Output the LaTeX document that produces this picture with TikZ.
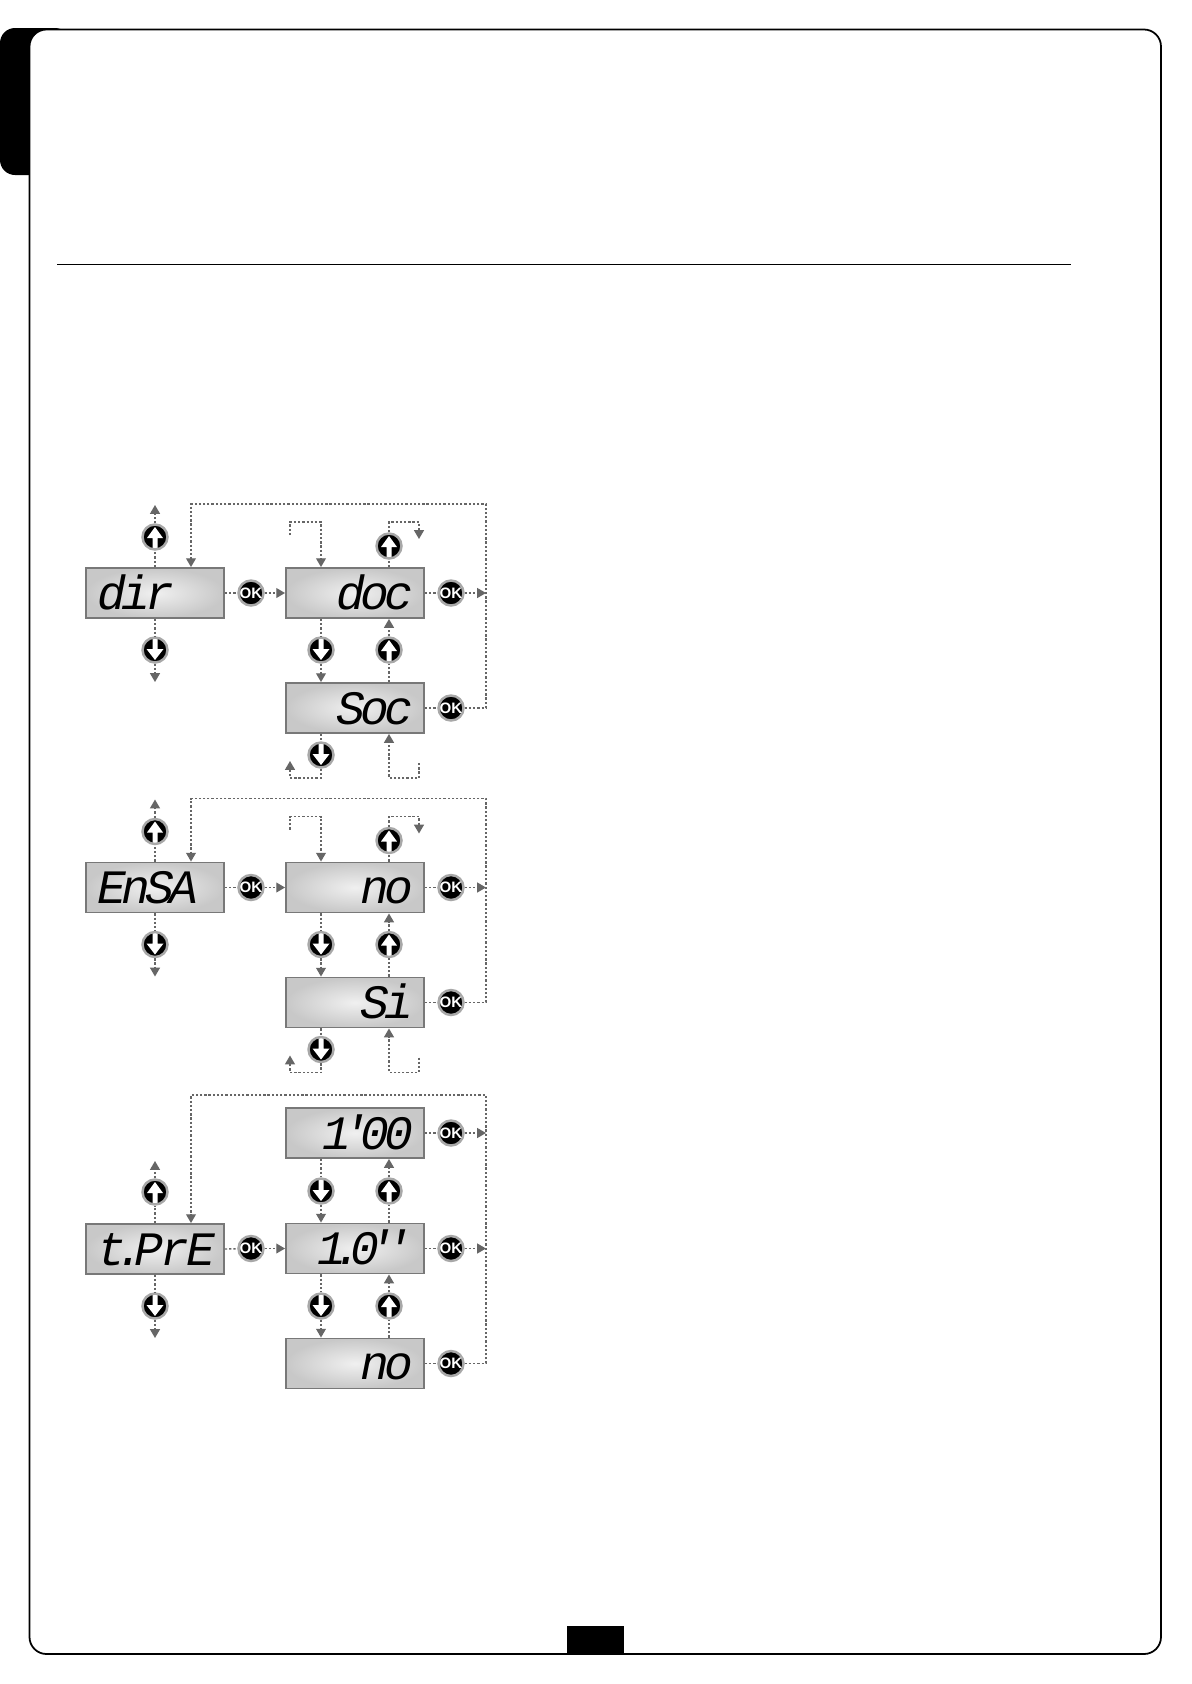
\documentclass[tikz,border=0pt]{standalone}
\usepackage{fontspec}
\setsansfont{Liberation Sans}
\newfontfamily\lcdfont[LetterSpace=-10]{Liberation Mono}
\usetikzlibrary{arrows.meta}
\definecolor{linegray}{HTML}{666666}
\definecolor{boxgray}{HTML}{787878}
\definecolor{ringgray}{HTML}{A8A8A8}
\definecolor{lcdlight}{HTML}{F0F0F0}
\definecolor{lcddark}{HTML}{C8C8C8}

\begin{document}
\begin{tikzpicture}[
  x=0.02cm, y=-0.02cm,
  lcd/.style={draw=boxgray, line width=1.1pt, inner color=lcdlight, outer color=lcddark,
              inner xsep=0.22cm, inner ysep=0.18cm, text width=2.32cm,
              text height=0.64cm, text depth=0pt,
              font=\lcdfont\itshape\fontsize{27.3}{30}\selectfont, text=black},
  btn/.style={circle, fill=black, draw=ringgray, line width=1.4pt,
              minimum size=0.5cm, inner sep=0pt},
  btnok/.style={btn, text=white, font=\sffamily\bfseries\fontsize{8.6}{9}\selectfont},
  btnup/.style={btn, path picture={
      \fill[white, shift={(path picture bounding box.center)}]
        (0,-10) -- (8,1) -- (2.5,1) -- (2.5,13) -- (-2.5,13) -- (-2.5,1) -- (-8,1) -- cycle;}},
  btndn/.style={btn, path picture={
      \fill[white, shift={(path picture bounding box.center)}]
        (0,10) -- (8.5,-1) -- (2.5,-1) -- (2.5,-13) -- (-2.5,-13) -- (-2.5,-1) -- (-8.5,-1) -- cycle;}},
  dots/.style={draw=linegray, line width=0.8pt, dash pattern=on 1.3pt off 1.1pt},
  arr/.style={dots, -{Triangle[length=5pt, width=5.6pt, fill=linegray]}},
]
\useasboundingbox (0,0) rectangle (1191,1684);

% ─── page frame, side tab, foot tab, header rule ────────────────────────────
\fill[white] (0,0) rectangle (1191,1684);
\fill[black, rounded corners=0.3cm] (0,28) rectangle (70,175);
\draw[black, fill=white, line width=1pt, rounded corners=0.34cm] (29.5,29.5) rectangle (1161,1654);
\fill[black] (567,1626) rectangle (624,1654);
\draw[black, line width=0.55pt] (57,264) -- (1071,264);

% ─── two menus of two choices ───────────────────────────────────────────────
\foreach \n/\dy/\tl/\tr/\tq in {a/0/dir/doc/Soc, b/294.5/EnSA/no/Si}{
\begin{scope}[shift={(0,\dy)}]
  \node[lcd, align=left]  (menu\n) at (155,593) {\tl};
  \node[lcd, align=right] (opta\n) at (355,593) {\tr};
  \node[lcd, align=right] (optb\n) at (355,708) {\tq};

  \node[btnup] (up\n)   at (155,537) {};
  \node[btndn] (dn\n)   at (155,650) {};
  \node[btnok] (ok\n)   at (251,593) {OK};
  \node[btnok] (oka\n)  at (451,593) {OK};
  \node[btnok] (okb\n)  at (451,708) {OK};
  \node[btnup] (upt\n)  at (389,546) {};
  \node[btndn] (dnm\n)  at (321,650) {};
  \node[btnup] (upm\n)  at (389,650) {};
  \node[btndn] (dnb\n)  at (321,755) {};

  \coordinate (tipu\n) at (155,505);
  \coordinate (tipd\n) at (155,682);
  \coordinate (lt\n)   at (191,504);
  \coordinate (rt\n)   at (486,504);
  \coordinate (la\n)   at (290,535);
  \coordinate (lb\n)   at (290,522);
  \coordinate (lc\n)   at (321,522);
  \coordinate (ra\n)   at (389,522);
  \coordinate (rb\n)   at (419,522);
  \coordinate (rc\n)   at (419,539);
  \coordinate (fa\n)   at (321,778);
  \coordinate (fb\n)   at (290,778);
  \coordinate (fc\n)   at (290,761);
  \coordinate (ga\n)   at (419,763);
  \coordinate (gb\n)   at (419,778);
  \coordinate (gc\n)   at (389,778);

  % up and down from the menu
  \draw[dots] (menu\n.north) -- (up\n);
  \draw[arr]  (up\n) -- (tipu\n);
  \draw[dots] (menu\n.south) -- (dn\n);
  \draw[arr]  (dn\n) -- (tipd\n);

  % into the choices and back to the menu
  \draw[dots] (menu\n.east) -- (ok\n);
  \draw[arr]  (ok\n) -- (opta\n.west);
  \draw[dots] (opta\n.east) -- (oka\n);
  \draw[arr]  (oka\n) -- (oka\n -| rt\n);
  \draw[dots] (optb\n.east) -- (okb\n);
  \draw[arr]  (okb\n) -| (rt\n) -- (lt\n) -- (lt\n |- menu\n.north);

  % between the choices
  \draw[dots] (dnm\n |- opta\n.south) -- (dnm\n);
  \draw[arr]  (dnm\n) -- (dnm\n |- optb\n.north);
  \draw[dots] (upm\n |- optb\n.north) -- (upm\n);
  \draw[arr]  (upm\n) -- (upm\n |- opta\n.south);

  % wrap-around stubs
  \draw[arr]  (la\n) -- (lb\n) -- (lc\n) -- (lc\n |- opta\n.north);
  \draw[dots] (upt\n |- opta\n.north) -- (upt\n);
  \draw[arr]  (upt\n) -- (ra\n) -- (rb\n) -- (rc\n);
  \draw[dots] (dnb\n |- optb\n.south) -- (dnb\n);
  \draw[arr]  (dnb\n) -- (fa\n) -- (fb\n) -- (fc\n);
  \draw[arr]  (ga\n) -- (gb\n) -- (gc\n) -- (gc\n |- optb\n.south);
\end{scope}
}

% ─── menu of three choices ──────────────────────────────────────────────────
\node[lcd, align=left] (menuc) at (155,1249)
  {t\kern-.2cm.\kern-.2cm P\kern-.06cm r\kern-.06cm E};
\node[btnup] (upc) at (155,1192) {};
\node[btndn] (dnc) at (155,1306) {};
\node[btnok] (okc) at (251,1248.5) {OK};
\coordinate (tipuc) at (155,1161);
\coordinate (tipdc) at (155,1338);
\coordinate (ltc) at (191,1095);
\coordinate (rtc) at (486,1095);

\foreach \r/\y/\t in {a/1133/1\kern-.2cm'\kern-.2cm 00,
                      b/1248.5/1\kern-.24cm.\kern-.24cm 0\kern-.24cm'\kern-.24cm',
                      c/1363.5/no}{
  \node[lcd, align=right] (opt\r) at (355,\y) {\t};
  \node[btnok] (okr\r) at (451,\y) {OK};
  \draw[dots] (opt\r.east) -- (okr\r);
}
\foreach \r/\a/\b/\y in {a/opta/optb/1191, b/optb/optc/1306}{
  \node[btndn] (dnr\r) at (321,\y) {};
  \node[btnup] (upr\r) at (389,\y) {};
  \draw[dots] (dnr\r |- \a.south) -- (dnr\r);
  \draw[arr]  (dnr\r) -- (dnr\r |- \b.north);
  \draw[dots] (upr\r |- \b.north) -- (upr\r);
  \draw[arr]  (upr\r) -- (upr\r |- \a.south);
}
\draw[dots] (menuc.north) -- (upc);
\draw[arr]  (upc) -- (tipuc);
\draw[dots] (menuc.south) -- (dnc);
\draw[arr]  (dnc) -- (tipdc);
\draw[dots] (menuc.east) -- (okc);
\draw[arr]  (okc) -- (optb.west);
\draw[arr]  (okra) -- (okra -| rtc);
\draw[arr]  (okrb) -- (okrb -| rtc);
\draw[arr]  (okrc) -| (rtc) -- (ltc) -- (ltc |- menuc.north);

\end{tikzpicture}
\end{document}
